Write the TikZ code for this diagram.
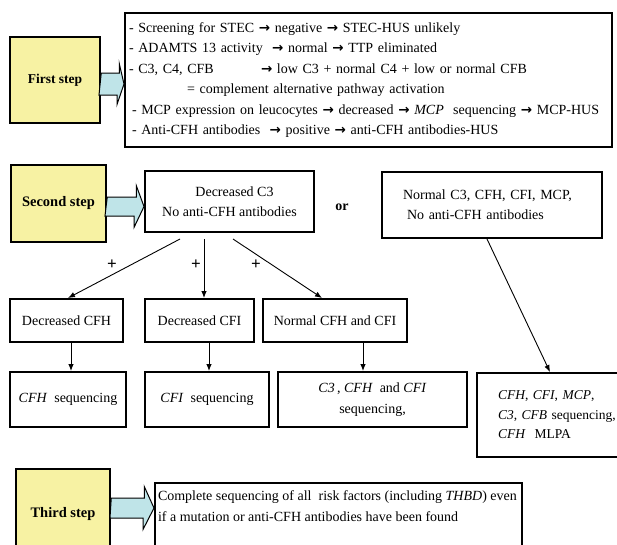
\documentclass[tikz,border=0pt]{standalone}
\usepackage{fontspec}
\setmainfont{Liberation Serif}
\newfontfamily\arrowfont{DejaVu Sans}
\newcommand{\rarr}{{\arrowfont\bfseries\fontsize{13.5}{13.5}\selectfont →}}
\usetikzlibrary{arrows.meta,calc}
\definecolor{stepyellow}{RGB}{247,242,163}
\definecolor{arrowcyan}{RGB}{191,228,232}

\begin{document}
\begin{tikzpicture}[x=1pt, y=-1pt,
		stepbox/.style={draw, line width=2.5pt, fill=stepyellow, font=\bfseries\fontsize{14.5}{17}\selectfont},
		textbox/.style={draw, line width=2pt, fill=white, font=\fontsize{14}{20.4}\selectfont},
		link/.style={line width=0.9pt, -{Latex[length=7pt, width=5.5pt]}},
		blockarrow/.style={draw, line width=1pt, fill=arrowcyan, line join=miter}]

			\useasboundingbox (0, 0) rectangle (617, 544);
			\fill[white] (0, 0) rectangle (617, 544);
			\clip (0, 0) rectangle (617, 544);

			% first step
			\draw (55, 80) 		node[stepbox, minimum width=90pt, minimum height=86pt, font=\bfseries\fontsize{13.5}{16}\selectfont] 	(step1) 	{First step};
			\draw (368.5, 80) 	node[textbox, minimum width=487pt, minimum height=134pt, text width=479pt, inner xsep=4pt, align=left] 	(list1) 	{- Screening for STEC~\rarr{} negative \rarr{} STEC-HUS unlikely\\
				- ADAMTS 13 activity~~\rarr{} normal \rarr{} TTP eliminated\\
				\makebox[132pt][l]{- C3, C4, CFB}\rarr{} low C3 + normal C4 +~low or normal CFB\\
				\hspace*{58pt}= complement alternative pathway activation\\
				\hspace*{3pt}\mbox{- MCP expression on leucocytes \rarr{} decreased \rarr{} \textit{MCP}~~sequencing \rarr{} MCP-HUS}\\
				\hspace*{3pt}- Anti-CFH antibodies~~\rarr{} positive \rarr{} anti-CFH antibodies-HUS};

			% second step
			\draw (58.5, 203.5) 	node[stepbox, minimum width=95pt, minimum height=77pt] 	(step2) 	{Second step};
			\draw (229.5, 201.5) 	node[textbox, minimum width=169pt, minimum height=61pt, align=center] 	(dec3) 	{\hspace*{10pt}Decreased C3\\No anti-CFH antibodies};
			\draw (342, 207) 	node[font=\bfseries\fontsize{14}{17}\selectfont] 	(or) 	{or};
			\draw (492, 205) 	node[textbox, minimum width=220pt, minimum height=66pt, text width=178pt, inner xsep=21pt, align=left] 	(normal) 	{Normal C3, CFH, CFI, MCP,\\\hspace*{4pt}No anti-CFH antibodies};
			\draw (112, 265) 	node[font=\bfseries\fontsize{17}{17}\selectfont] 	(plus1) 	{+};
			\draw (196, 265) 	node[font=\bfseries\fontsize{17}{17}\selectfont] 	(plus2) 	{+};
			\draw (256, 265) 	node[font=\bfseries\fontsize{17}{17}\selectfont] 	(plus3) 	{+};

			\draw (66.5, 320.5) 	node[textbox, minimum width=113pt, minimum height=43pt] 	(dcfh) 	{Decreased CFH};
			\draw (199.5, 320.5) 	node[textbox, minimum width=109pt, minimum height=43pt] 	(dcfi) 	{Decreased CFI};
			\draw (335, 320.5) 	node[textbox, minimum width=144pt, minimum height=43pt] 	(ncfh) 	{Normal CFH and CFI};

			\draw (68, 399.5) 	node[textbox, minimum width=116pt, minimum height=55pt] 	(cfhseq) 	{\textit{CFH}~~sequencing};
			\draw (207, 399.5) 	node[textbox, minimum width=124pt, minimum height=55pt] 	(cfiseq) 	{\textit{CFI}~~sequencing};
			\draw (372.5, 399.5) 	node[textbox, minimum width=189pt, minimum height=55pt, align=center] 	(c3seq) 	{\textit{C3}\,, \textit{CFH}~~and \textit{CFI}\\sequencing,};
			\draw (564, 415) 	node[textbox, minimum width=174pt, minimum height=84pt, text width=132pt, inner xsep=21pt, align=left, font=\fontsize{13.5}{19.5}\selectfont] 	(allseq) 	{\textit{CFH}, \textit{CFI}, \textit{MCP},\\\textit{C3}, \textit{CFB} sequencing,\\\textit{CFH}~~MLPA};

			% third step
			\draw (63, 514.5) 	node[stepbox, minimum width=94pt, minimum height=91pt] 	(step3) 	{Third step};
			\draw (154, 482) 	node[textbox, anchor=north west, inner xsep=3pt, inner ysep=8pt] 	(note3) 	{\parbox[t][80pt][t]{361pt}{\mbox{Complete sequencing of all~~risk factors (including \textit{THBD}) even}\\
				if a mutation or anti-CFH antibodies have been found}};

			\draw[link] ([xshift=-49.5pt, yshift=-6pt]dec3.south) -- ([xshift=1.5pt]dcfh.north);
			\draw[link] ([xshift=-25.5pt, yshift=-6pt]dec3.south) -- ([xshift=-25.5pt]dec3.south |- dcfi.north);
			\draw[link] ([xshift=3.5pt, yshift=-6pt]dec3.south) -- ([xshift=-13pt]ncfh.north);
			\draw[link] ([xshift=-5pt]normal.south) -- ([xshift=-14pt]allseq.north);
			\draw[link] ([xshift=4.5pt]dcfh.south) -- ([xshift=4.5pt]dcfh.south |- cfhseq.north);
			\draw[link] ([xshift=9.5pt]dcfi.south) -- ([xshift=9.5pt]dcfi.south |- cfiseq.north);
			\draw[link] ([xshift=28pt]ncfh.south) -- ([xshift=28pt]ncfh.south |- c3seq.north);

			% block arrows
			\path (step1.east) ++(0, 4) coordinate (a1s);
			\path (list1.west |- a1s) coordinate (a1e);
			\filldraw[blockarrow] (a1s) ++(0, -11) -- ++(18, 0) -- ++(0, -9.5) -- (a1e) -- ++(-7, 20.5) -- ++(0, -9.5) -- ++(-18, 0) -- cycle;
			\path (step2.east) ++(0, 3) coordinate (a2s);
			\path (dec3.west |- a2s) coordinate (a2e);
			\filldraw[blockarrow] (a2s) ++(0, -9.5) -- ++(29, 0) -- ++(0, -11.5) -- (a2e) -- ++(-10, 21) -- ++(0, -11.5) -- ++(-29, 0) -- cycle;
			\path (step3.east) ++(0, -6.5) coordinate (a3s);
			\path (note3.west |- a3s) coordinate (a3e);
			\filldraw[blockarrow] (a3s) ++(0, -10) -- ++(33, 0) -- ++(0, -11.5) -- (a3e) -- ++(-11, 21.5) -- ++(0, -11.5) -- ++(-33, 0) -- cycle;
\end{tikzpicture}
\end{document}
